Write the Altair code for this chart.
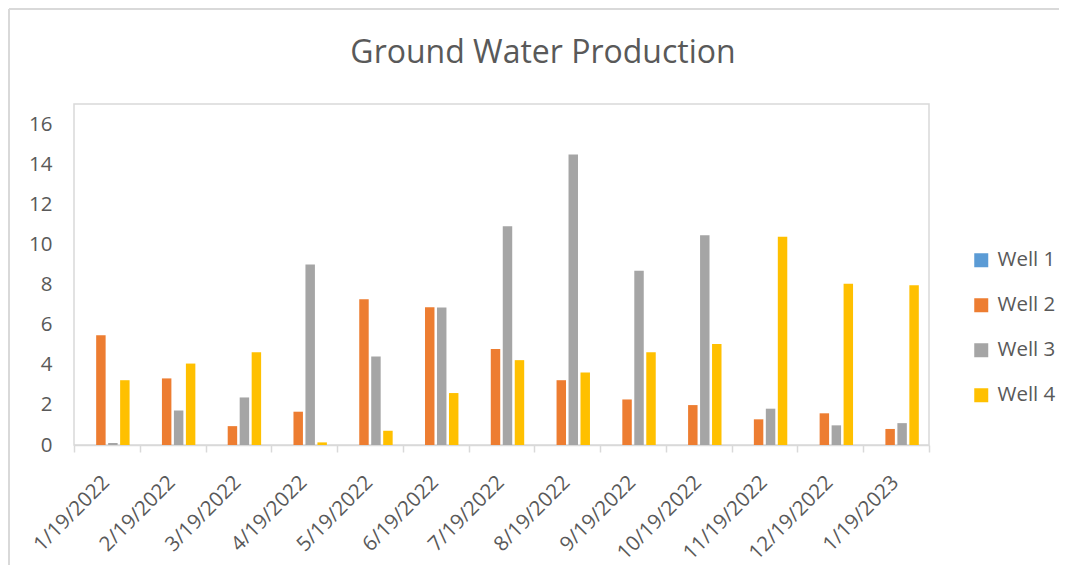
import altair as alt
import pandas as pd

dates = ["1/19/2022", "2/19/2022", "3/19/2022", "4/19/2022", "5/19/2022",
         "6/19/2022", "7/19/2022", "8/19/2022", "9/19/2022", "10/19/2022",
         "11/19/2022", "12/19/2022", "1/19/2023"]
wells = ["Well 1", "Well 2", "Well 3", "Well 4"]
well1 = [0, 0, 0, 0, 0, 0, 0, 0, 0, 0, 0, 0, 0]
well2 = [5.47, 3.32, 0.94, 1.66, 7.26, 6.87, 4.78, 3.23, 2.27, 1.99, 1.28, 1.58, 0.80]
well3 = [0.10, 1.72, 2.37, 9.00, 4.41, 6.85, 10.91, 14.48, 8.69, 10.46, 1.81, 0.98, 1.09]
well4 = [3.23, 4.06, 4.63, 0.13, 0.71, 2.59, 4.23, 3.62, 4.63, 5.04, 10.38, 8.04, 7.97]
colors = ["#5B9BD5", "#ED7D31", "#A5A5A5", "#FFC000"]
y_ticks = [0, 2, 4, 6, 8, 10, 12, 14, 16]
title_text = "Ground Water Production"

rows = []
for name, series in zip(wells, [well1, well2, well3, well4]):
    for d, v in zip(dates, series):
        rows.append({"Date": d, "Well": name, "Value": v})
df = pd.DataFrame(rows)

FONT = "Open Sans"
TXT = "#595959"
GRID = "#d9d9d9"
LBL = 20.5

bars = alt.Chart(df).mark_bar().encode(
    x=alt.X("Date:N", sort=dates,
            scale=alt.Scale(paddingInner=0, paddingOuter=0),
            axis=alt.Axis(title=None, labelAngle=-45, labelAlign="right",
                          labelBaseline="middle", tickBand="extent",
                          tickSize=7, tickColor=GRID, tickWidth=1.5,
                          domainColor=GRID, domainWidth=1.5,
                          labelPadding=27, labelOffset=-1, labelFont=FONT,
                          labelFontSize=LBL, labelColor=TXT,
                          labelOverlap=False)),
    xOffset=alt.XOffset("Well:N", sort=wells,
                        scale=alt.Scale(paddingInner=0.21, paddingOuter=0.85)),
    y=alt.Y("Value:Q", scale=alt.Scale(domain=[0, 17], nice=False),
            axis=alt.Axis(title=None, values=y_ticks, grid=False, ticks=False,
                          tickSize=0, domain=False, labelPadding=22,
                          labelFont=FONT, labelFontSize=LBL, labelColor=TXT)),
    color=alt.Color("Well:N", sort=wells,
                    scale=alt.Scale(domain=wells, range=colors),
                    legend=alt.Legend(title=None, orient="none", legendX=897,
                                      legendY=146, symbolType="square",
                                      symbolSize=196, symbolStrokeWidth=0,
                                      labelFont=FONT, labelFontSize=LBL,
                                      labelColor=TXT, rowPadding=24,
                                      labelOffset=6, padding=0)),
)

frame = pd.DataFrame({"t": [title_text]})
left_line = alt.Chart(frame).mark_rule(color=GRID, strokeWidth=2).encode(
    x=alt.value(-65), y=alt.value(-95), y2=alt.value(480))
top_line = alt.Chart(frame).mark_rule(color=GRID, strokeWidth=2).encode(
    x=alt.value(-65), x2=alt.value(990), y=alt.value(-95))
title = alt.Chart(frame).mark_text(
    font=FONT, fontSize=32, color=TXT, align="center", baseline="alphabetic"
).encode(text="t:N", x=alt.value(469), y=alt.value(-41))

chart = alt.layer(left_line, top_line, title, bars).properties(
    width=855, height=341,
    padding={"left": 66, "top": 96, "right": 130, "bottom": 120},
    autosize="none",
).configure_view(stroke=GRID, strokeWidth=1.5)

chart.save("out.html", embed_options={"renderer": "svg", "actions": False})
